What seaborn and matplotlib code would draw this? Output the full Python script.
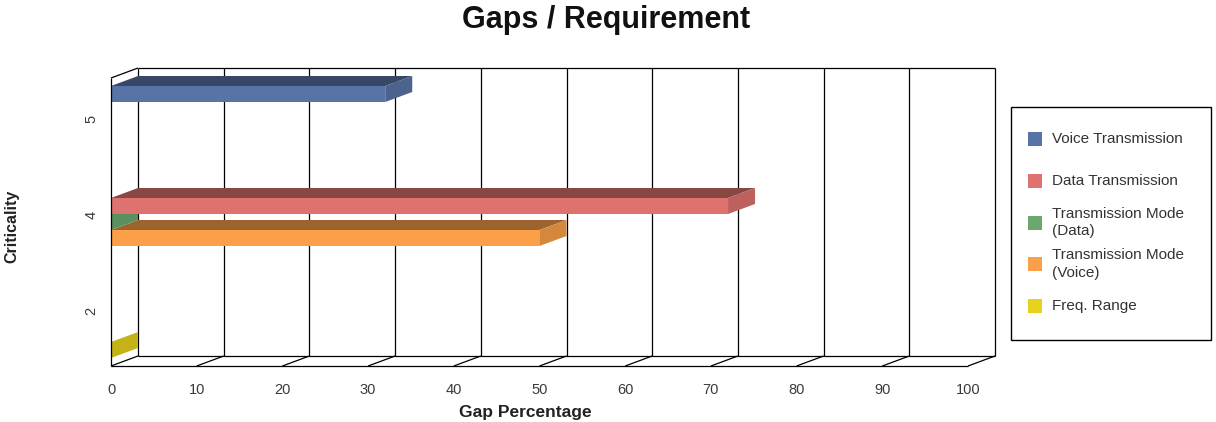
import numpy as np
import pandas as pd
import matplotlib
matplotlib.use("Agg")
import matplotlib.pyplot as plt
from matplotlib.patches import Polygon, Rectangle
from matplotlib.colors import to_rgb
from matplotlib.transforms import ScaledTranslation
import seaborn as sns

# ---- data -------------------------------------------------------------
criticality = ["5", "4", "4", "4", "2"]
series = ["Voice Transmission", "Data Transmission", "Transmission Mode (Data)",
          "Transmission Mode (Voice)", "Freq. Range"]
gap_pct = [32, 72, 0, 50, 0]

levels = ["5", "4", "2"]
hue_levels = ["Voice Transmission", "Data Transmission", "Transmission Mode (Data)",
              "Transmission Mode (Voice)", "Freq. Range"]
legend_labels = ["Voice Transmission", "Data Transmission", "Transmission Mode\n(Data)",
                 "Transmission Mode\n(Voice)", "Freq. Range"]
x_ticks = [0, 10, 20, 30, 40, 50, 60, 70, 80, 90, 100]
colors = ["#5874a6", "#dd726e", "#6aa870", "#fb9f48", "#e6d21a"]

# ---- style ------------------------------------------------------------
sns.set_style("white")
plt.rcParams["font.family"] = ["Liberation Sans", "DejaVu Sans"]

W, H, DPI = 1216, 422, 100
fig = plt.figure(figsize=(W / DPI, H / DPI), dpi=DPI)
ax = fig.add_axes([111 / W, 56 / H, 857 / W, 288 / H])

df = pd.DataFrame({"Criticality": criticality, "Series": series, "Gap": gap_pct})
sns.barplot(data=df, x="Gap", y="Criticality", hue="Series", order=levels,
            hue_order=hue_levels, palette=colors, orient="h", width=5 / 6,
            dodge=True, saturation=1, errorbar=None, legend=False,
            linewidth=0, edgecolor="none", ax=ax)

ax.set_xlim(0, 100)
ax.set_ylim(2.5, -0.5)
ax.set_xticks(x_ticks)
ax.set_xticklabels([str(t) for t in x_ticks])
for s in ax.spines.values():
    s.set_visible(False)
ax.grid(False)
ax.tick_params(axis="both", length=0, labelsize=10.5, labelcolor="#3a3a3a")
ax.tick_params(axis="x", pad=12)
ax.tick_params(axis="y", pad=9)
for lab in ax.get_yticklabels():
    lab.set_rotation(90)
    lab.set_va("center")
    lab.set_transform(lab.get_transform() + ScaledTranslation(0, 7 / DPI, fig.dpi_scale_trans))

# depth of the pseudo-3D box, in data units
depth_px = (27, 10)
ax_w_px = 857
ax_h_px = 288
dx = depth_px[0] * 100 / ax_w_px
dy = depth_px[1] * 3 / ax_h_px

line_kw = dict(color="black", lw=0.9, clip_on=False, zorder=1, solid_capstyle="butt")
y_top, y_bot = -0.5, 2.5
# back wall
ax.plot([dx, 100 + dx], [y_top - dy, y_top - dy], **line_kw)
ax.plot([dx, 100 + dx], [y_bot - dy, y_bot - dy], **line_kw)
for t in x_ticks:
    ax.plot([t + dx, t + dx], [y_top - dy, y_bot - dy], **line_kw)
# floor diagonals and front edges
for t in x_ticks:
    ax.plot([t, t + dx], [y_bot, y_bot - dy], **line_kw)
ax.plot([0, dx], [y_top, y_top - dy], **line_kw)
ax.plot([0, 100], [y_bot, y_bot], **line_kw)
ax.plot([0, 0], [y_top, y_bot], **dict(line_kw, zorder=30))


def shade(c, f):
    r, g, b = to_rgb(c)
    return (r * f, g * f, b * f)


# extrude every bar into a 3D slab (top face + end face)
for bar in list(ax.patches):
    x0 = bar.get_x()
    w = bar.get_width()
    yt = bar.get_y()
    yb = yt + bar.get_height()
    fc = bar.get_facecolor()
    zc = 10 - (yt + yb)  # lower bars sit behind upper ones
    top = Polygon([(x0, yt), (x0 + w, yt), (x0 + w + dx, yt - dy), (x0 + dx, yt - dy)],
                  closed=True, facecolor=shade(fc, 0.62), edgecolor="none",
                  clip_on=False, zorder=zc)
    end = Polygon([(x0 + w, yt), (x0 + w, yb), (x0 + w + dx, yb - dy), (x0 + w + dx, yt - dy)],
                  closed=True, facecolor=shade(fc, 0.85), edgecolor="none",
                  clip_on=False, zorder=zc + 0.01)
    ax.add_patch(top)
    ax.add_patch(end)
    bar.set_zorder(zc + 0.02)
    bar.set_clip_on(False)

# axis labels and title
ax.set_xlabel("Gap Percentage", fontsize=12.5, fontweight="bold", color="#222222",
              va="baseline")
ax.xaxis.set_label_coords((525 - 111) / 857, -(417 - 366) / 288)
ax.set_ylabel("Criticality", fontsize=11.5, fontweight="bold", color="#222222", va="center")
ax.yaxis.set_label_coords(-(111 - 12) / 857, (366 - 226) / 288)
fig.text(606 / W, 1 - 28 / H, "Gaps / Requirement", ha="center", va="baseline",
         fontsize=22, fontweight="bold", color="#111111")

# legend box with evenly spaced entries
fig.add_artist(Rectangle((1011 / W, 82 / H), 200 / W, 233 / H, transform=fig.transFigure,
                         fill=False, edgecolor="black", lw=1))
first_y, step = 139, 41.75
for i, (lab, c) in enumerate(zip(legend_labels, colors)):
    yc = first_y + i * step
    fig.add_artist(Rectangle((1028 / W, 1 - (yc + 7) / H), 14 / W, 14 / H,
                             transform=fig.transFigure, facecolor=c, edgecolor="none"))
    fig.text(1052 / W, 1 - yc / H, lab, ha="left", va="center", fontsize=11,
             color="#333333", linespacing=1.35)

fig.savefig("out.png", dpi=DPI)
